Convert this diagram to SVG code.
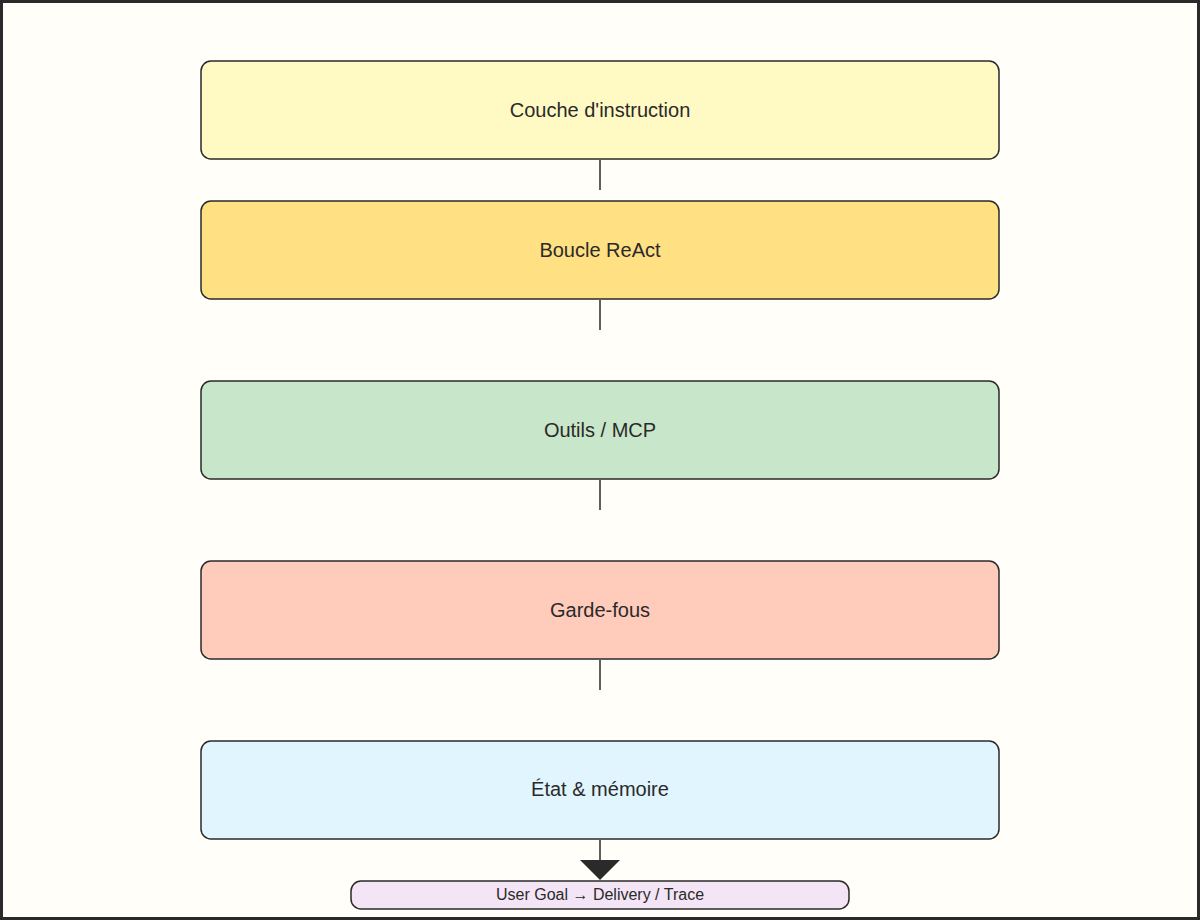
<svg xmlns="http://www.w3.org/2000/svg" width="1200" height="920" viewBox="0 0 1200 920">
<defs>
<style>
.n{stroke:#2a2a2a;stroke-width:1.5}
.t{font-family:"Liberation Sans",Arial,sans-serif;font-size:20px;fill:#2a2a2a;text-anchor:middle;dominant-baseline:central}
.s{font-size:16px}
.c{stroke:#2a2a2a;stroke-width:1.5;fill:none}
</style>
</defs>
<rect x="1.5" y="1.5" width="1197" height="917" fill="#fffef8" stroke="#2a2a2a" stroke-width="3"/>
<g id="connectors">
<line class="c" x1="600" y1="160" x2="600" y2="190"/>
<line class="c" x1="600" y1="300" x2="600" y2="330"/>
<line class="c" x1="600" y1="480" x2="600" y2="510"/>
<line class="c" x1="600" y1="660" x2="600" y2="690"/>
<line class="c" x1="600" y1="840" x2="600" y2="861"/>
<polygon points="580,860 620,860 600,880" fill="#2a2a2a"/>
</g>
<g id="instruction"><rect class="n" x="201" y="61" width="798" height="98" rx="10" fill="#fff9c4"/><text class="t" x="600" y="110">Couche d'instruction</text></g>
<g id="react"><rect class="n" x="201" y="201" width="798" height="98" rx="10" fill="#ffe082"/><text class="t" x="600" y="250">Boucle ReAct</text></g>
<g id="outils"><rect class="n" x="201" y="381" width="798" height="98" rx="10" fill="#c8e6c9"/><text class="t" x="600" y="430">Outils / MCP</text></g>
<g id="garde"><rect class="n" x="201" y="561" width="798" height="98" rx="10" fill="#ffccbc"/><text class="t" x="600" y="610">Garde-fous</text></g>
<g id="etat"><rect class="n" x="201" y="741" width="798" height="98" rx="10" fill="#e1f5fe"/><text class="t" x="600" y="789">État &amp; mémoire</text></g>
<g id="goal"><rect class="n" x="351" y="881" width="498" height="28" rx="10" fill="#f3e5f5"/><text class="t s" x="600" y="894">User Goal → Delivery / Trace</text></g>
</svg>
